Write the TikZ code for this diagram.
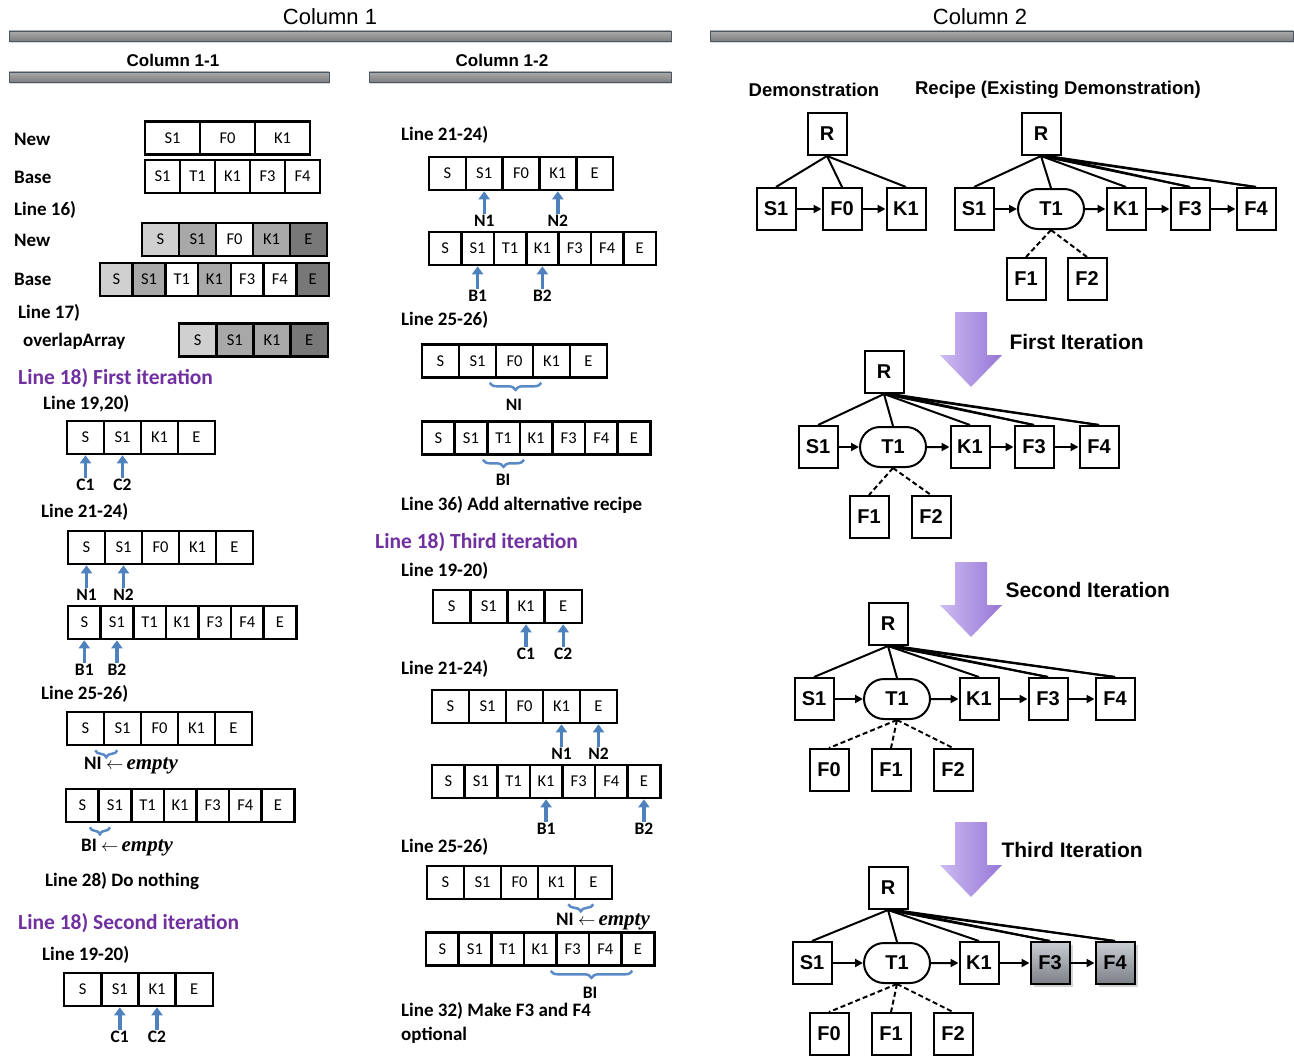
\documentclass[tikz,border=0pt]{standalone}
\usepackage{amsmath}
\usepackage{fontspec}
\setmainfont{Carlito}
\newfontfamily\arialfont{Liberation Sans}
\newfontfamily\emptyfont{Liberation Serif}
\usetikzlibrary{arrows.meta,positioning,calc,decorations.pathreplacing,shapes.misc,shadows}
\definecolor{ptrblue}{HTML}{4F81BD}
\definecolor{braceblue}{HTML}{5A8AC6}
\definecolor{headpurple}{HTML}{7030A0}
\definecolor{lgS}{HTML}{D0D0D0}
\definecolor{mgS}{HTML}{A8A8A8}
\definecolor{dgS}{HTML}{787878}
\definecolor{arrowL}{HTML}{CDBBF2}
\definecolor{arrowR}{HTML}{9676D6}
\definecolor{optTop}{HTML}{C9CED4}
\definecolor{optBot}{HTML}{7B8088}
\definecolor{barTop}{HTML}{ABABAB}
\definecolor{barBot}{HTML}{7E7E7E}
\definecolor{barEdge}{HTML}{4B5563}

% row of array cells: name, left x, centre y, cell width, entries
\newcommand{\cellrow}[5]{%
  \foreach \lab [count=\i] in {#5}
    \node[cell, minimum width=#4pt] (#1-\i) at ({#2+(\i-0.5)*#4},#3) {\lab};}
% same, with a fill per cell (entry/colour)
\newcommand{\shadedrow}[5]{%
  \foreach \lab/\fil [count=\i] in {#5}
    \node[cell, minimum width=#4pt, fill=\fil] (#1-\i) at ({#2+(\i-0.5)*#4},#3) {\lab};}
% grey header bar: x1, x2, top y
\newcommand{\headbar}[3]{%
  \shade[top color=barTop, bottom color=barBot, draw=barEdge, line width=0.8pt,
         drop shadow={shadow xshift=1pt, shadow yshift=-2pt, opacity=0.3}]
    (#1,#3) rectangle (#2,{#3+10});}
% purple block arrow: centre x, top y
\newcommand{\iterarrow}[2]{%
  \shade[left color=arrowL, right color=arrowR]
    ({#1-16},#2) -- ({#1+16},#2) -- ({#1+16},{#2+43}) -- ({#1+31},{#2+43})
    -- (#1,{#2+75}) -- ({#1-31},{#2+43}) -- ({#1-16},{#2+43}) -- cycle;}
\newcommand{\empt}{$\leftarrow$\,{\emptyfont\bfseries\itshape\fontsize{21}{24}\selectfont empty}}

\begin{document}
\begin{tikzpicture}[x=1pt, y=-1pt,
  cell/.style={draw, line width=2.6pt, minimum height=33pt, inner sep=0pt, fill=white,
               font=\fontsize{16.5}{18}\selectfont},
  txt/.style={anchor=west, inner sep=0pt, font=\bfseries\fontsize{19}{24}\selectfont},
  phead/.style={anchor=west, inner sep=0pt, text=headpurple,
                font=\bfseries\fontsize{21.5}{24}\selectfont},
  ptrlbl/.style={inner sep=1pt, font=\bfseries\fontsize{17.5}{19}\selectfont},
  ptr/.style={draw=ptrblue, line width=3.4pt, -{Triangle[width=11pt,length=8pt]}},
  brc/.style={draw=braceblue, line width=2.5pt, decorate,
              decoration={brace, mirror, amplitude=7pt}},
  colhead/.style={font=\arialfont\fontsize{22}{24}\selectfont},
  subhead/.style={font=\arialfont\bfseries\fontsize{17}{18}\selectfont},
  thead/.style={font=\arialfont\bfseries\fontsize{18.5}{20}\selectfont},
  iterlbl/.style={anchor=west, font=\arialfont\bfseries\fontsize{21}{23}\selectfont},
  tbox/.style={draw, line width=2pt, minimum width=39pt, minimum height=42pt, inner sep=0pt,
               fill=white, font=\arialfont\bfseries\fontsize{20}{22}\selectfont},
  tpill/.style={tbox, rounded rectangle, minimum width=66pt, minimum height=40pt},
  opt/.style={tbox, top color=optTop, bottom color=optBot,
              drop shadow={shadow xshift=3pt, shadow yshift=-3pt, opacity=0.35}},
  tedge/.style={line width=2pt},
  tnext/.style={line width=2pt, -{Triangle[length=8pt,width=8pt]}},
  tfree/.style={line width=2pt, dash pattern=on 5pt off 3pt}
]
\useasboundingbox (0,0) rectangle (1294,1057);

% ---- headers ----
\node[colhead] (col1)  at (330,17) {Column 1};
\node[colhead] (col2)  at (980,17) {Column 2};
\headbar{9}{671}{31}
\headbar{710}{1293}{31}
\node[subhead] (col11) at (173,60) {Column 1-1};
\node[subhead] (col12) at (502,60) {Column 1-2};
\headbar{9}{329}{72}
\headbar{369}{671}{72}

% ---- column 1-1 ----
\node[txt] (t-new)  at (14,139) {New};
\node[txt] (t-base) at (14,177) {Base};
\cellrow{nw}{145}{138}{55}{S1,F0,K1}
\cellrow{bs}{145}{176.5}{35}{S1,T1,K1,F3,F4}
\node[txt] (t-l16)   at (14,210) {Line 16)};
\node[txt] (t-new2)  at (14,240) {New};
\node[txt] (t-base2) at (14,279) {Base};
\shadedrow{nx}{142}{239.5}{37}{S/lgS,S1/mgS,F0/white,K1/mgS,E/dgS}
\shadedrow{bx}{100}{279.5}{32.7}{S/lgS,S1/mgS,T1/white,K1/mgS,F3/white,F4/white,E/dgS}
\node[txt] (t-l17) at (18,313) {Line 17)};
\node[txt] (t-ov)  at (23,341) {overlapArray};
\shadedrow{ov}{179}{340}{37.2}{S/lgS,S1/mgS,K1/mgS,E/dgS}

\node[phead] (h-it1) at (18,378) {Line 18) First iteration};
\node[txt] (t-a1) at (43,404) {Line 19,20)};
\cellrow{fa}{67}{437.5}{37}{S,S1,K1,E}
\node[ptrlbl, below=23pt of fa-1] (fa-c1) {C1};
\node[ptrlbl, below=23pt of fa-2] (fa-c2) {C2};
\draw[ptr] (fa-c1.north) -- (fa-1.south);
\draw[ptr] (fa-c2.north) -- (fa-2.south);

\node[txt] (t-a2) at (41,512) {Line 21-24)};
\cellrow{fb}{68}{547.5}{37}{S,S1,F0,K1,E}
\node[ptrlbl, below=23pt of fb-1] (fb-n1) {N1};
\node[ptrlbl, below=23pt of fb-2] (fb-n2) {N2};
\draw[ptr] (fb-n1.north) -- (fb-1.south);
\draw[ptr] (fb-n2.north) -- (fb-2.south);
\cellrow{fc}{68}{622.5}{32.6}{S,S1,T1,K1,F3,F4,E}
\node[ptrlbl, below=23pt of fc-1] (fc-b1) {B1};
\node[ptrlbl, below=23pt of fc-2] (fc-b2) {B2};
\draw[ptr] (fc-b1.north) -- (fc-1.south);
\draw[ptr] (fc-b2.north) -- (fc-2.south);

\node[txt] (t-a3) at (41,694) {Line 25-26)};
\cellrow{fd}{67}{728.5}{37}{S,S1,F0,K1,E}
\draw[brc] ($(fd-1.south east)+(-10,4)$) -- ($(fd-1.south east)+(12,4)$);
\node[txt] (fd-ni) at (84,766) {NI \empt};
\cellrow{fe}{66}{805.5}{32.6}{S,S1,T1,K1,F3,F4,E}
\draw[brc] ($(fe-1.south east)+(-10,4)$) -- ($(fe-1.south east)+(10,4)$);
\node[txt] (fe-bi) at (81,848) {BI \empt};
\node[txt] (t-a4) at (45,881) {Line 28) Do nothing};

\node[phead] (h-it2) at (18,923) {Line 18) Second iteration};
\node[txt] (t-b1) at (42,955) {Line 19-20)};
\cellrow{sa}{64}{989.5}{37.2}{S,S1,K1,E}
\node[ptrlbl, below=23pt of sa-2] (sa-c1) {C1};
\node[ptrlbl, below=23pt of sa-3] (sa-c2) {C2};
\draw[ptr] (sa-c1.north) -- (sa-2.south);
\draw[ptr] (sa-c2.north) -- (sa-3.south);

% ---- column 1-2 ----
\node[txt] (t-b2) at (401,135) {Line 21-24)};
\cellrow{ga}{429}{173.5}{36.8}{S,S1,F0,K1,E}
\node[ptrlbl, below=23pt of ga-2] (ga-n1) {N1};
\node[ptrlbl, below=23pt of ga-4] (ga-n2) {N2};
\draw[ptr] (ga-n1.north) -- (ga-2.south);
\draw[ptr] (ga-n2.north) -- (ga-4.south);
\cellrow{gb}{429}{248.5}{32.4}{S,S1,T1,K1,F3,F4,E}
\node[ptrlbl, below=23pt of gb-2] (gb-b1) {B1};
\node[ptrlbl, below=23pt of gb-4] (gb-b2) {B2};
\draw[ptr] (gb-b1.north) -- (gb-2.south);
\draw[ptr] (gb-b2.north) -- (gb-4.south);

\node[txt] (t-b3) at (401,320) {Line 25-26)};
\cellrow{gc}{422}{361}{37}{S,S1,F0,K1,E}
\draw[brc] ($(gc-3.south west)+(-5,4)$) -- ($(gc-3.south east)+(7,4)$);
\node[ptrlbl] (gc-ni) at (514,405) {NI};
\cellrow{gd}{422}{438}{32.6}{S,S1,T1,K1,F3,F4,E}
\draw[brc] ($(gd-3.south west)+(-3,4)$) -- ($(gd-3.south east)+(3,4)$);
\node[ptrlbl] (gd-bi) at (503,480) {BI};
\node[txt] (t-b4) at (401,505) {Line 36) Add alternative recipe};

\node[phead] (h-it3) at (375,542) {Line 18) Third iteration};
\node[txt] (t-c1) at (401,571) {Line 19-20)};
\cellrow{ta}{433}{606.5}{37.2}{S,S1,K1,E}
\node[ptrlbl, below=23pt of ta-3] (ta-c1) {C1};
\node[ptrlbl, below=23pt of ta-4] (ta-c2) {C2};
\draw[ptr] (ta-c1.north) -- (ta-3.south);
\draw[ptr] (ta-c2.north) -- (ta-4.south);

\node[txt] (t-c2) at (401,669) {Line 21-24)};
\cellrow{tb}{432}{706.5}{37}{S,S1,F0,K1,E}
\node[ptrlbl, below=23pt of tb-4] (tb-n1) {N1};
\node[ptrlbl, below=23pt of tb-5] (tb-n2) {N2};
\draw[ptr] (tb-n1.north) -- (tb-4.south);
\draw[ptr] (tb-n2.north) -- (tb-5.south);
\cellrow{tc}{432}{781.5}{32.6}{S,S1,T1,K1,F3,F4,E}
\node[ptrlbl, below=23pt of tc-4] (tc-b1) {B1};
\node[ptrlbl, below=23pt of tc-7] (tc-b2) {B2};
\draw[ptr] (tc-b1.north) -- (tc-4.south);
\draw[ptr] (tc-b2.north) -- (tc-7.south);

\node[txt] (t-c3) at (401,847) {Line 25-26)};
\cellrow{td}{427}{882.5}{37}{S,S1,F0,K1,E}
\draw[brc] ($(td-4.south east)+(-8,4)$) -- ($(td-4.south east)+(17,4)$);
\node[txt] (td-ni) at (556,922) {NI \empt};
\cellrow{te}{426}{949}{32.6}{S,S1,T1,K1,F3,F4,E}
\draw[brc] ($(te-4.south east)+(-7,4)$) -- ($(te-7.south west)+(12,4)$);
\node[ptrlbl] (te-bi) at (590,993) {BI};
\node[txt, align=left] (t-c4) at (401,1023) {Line 32) Make F3 and F4\\optional};

% ---- column 2: demonstration and recipe ----
\node[thead] (demo-t)   at (814,90)  {Demonstration};
\node[thead] (recipe-t) at (1058,90) {Recipe (Existing Demonstration)};

\node[tbox] (d-R)  at (827,134) {R};
\node[tbox] (d-S1) at (776,209) {S1};
\node[tbox] (d-F0) at (842,209) {F0};
\node[tbox] (d-K1) at (906,209) {K1};
\foreach \c in {S1,F0,K1} \draw[tedge] (d-R.south) -- (d-\c.north);
\draw[tnext] (d-S1) -- (d-F0);
\draw[tnext] (d-F0) -- (d-K1);

\node[tbox]  (r0-R)  at (1041,134) {R};
\node[tbox]  (r0-S1) at (974,209)  {S1};
\node[tpill] (r0-T1) at (1051,209) {T1};
\node[tbox]  (r0-K1) at (1126,209) {K1};
\node[tbox]  (r0-F3) at (1190,209) {F3};
\node[tbox]  (r0-F4) at (1256,209) {F4};
\node[tbox]  (r0-F1) at (1026,279) {F1};
\node[tbox]  (r0-F2) at (1087,279) {F2};

% ---- iterations ----
\iterarrow{971}{312}
\node[iterlbl] (it1-t) at (1006,342) {First Iteration};
\node[tbox]  (r1-R)  at (884,372) {R};
\node[tbox]  (r1-S1) at (818,447) {S1};
\node[tpill] (r1-T1) at (893,447) {T1};
\node[tbox]  (r1-K1) at (970,447) {K1};
\node[tbox]  (r1-F3) at (1034,447) {F3};
\node[tbox]  (r1-F4) at (1099,447) {F4};
\node[tbox]  (r1-F1) at (869,517) {F1};
\node[tbox]  (r1-F2) at (931,517) {F2};

\iterarrow{971}{562}
\node[iterlbl] (it2-t) at (1002,590) {Second Iteration};
\node[tbox]  (r2-R)  at (888,624) {R};
\node[tbox]  (r2-S1) at (814,699) {S1};
\node[tpill] (r2-T1) at (897,699) {T1};
\node[tbox]  (r2-K1) at (979,699) {K1};
\node[tbox]  (r2-F3) at (1048,699) {F3};
\node[tbox]  (r2-F4) at (1115,699) {F4};
\node[tbox]  (r2-F0) at (829,770) {F0};
\node[tbox]  (r2-F1) at (891,770) {F1};
\node[tbox]  (r2-F2) at (953,770) {F2};

\iterarrow{971}{822}
\node[iterlbl] (it3-t) at (998,850) {Third Iteration};
\node[tbox]  (r3-R)  at (888,888) {R};
\node[tbox]  (r3-S1) at (812,963) {S1};
\node[tpill] (r3-T1) at (897,963) {T1};
\node[tbox]  (r3-K1) at (979,963) {K1};
\node[opt]   (r3-F3) at (1050,963) {F3};
\node[opt]   (r3-F4) at (1115,963) {F4};
\node[tbox]  (r3-F0) at (829,1034) {F0};
\node[tbox]  (r3-F1) at (891,1034) {F1};
\node[tbox]  (r3-F2) at (953,1034) {F2};

% recipe edges, same for every tree
\foreach \p/\fs in {r0/{F1,F2}, r1/{F1,F2}, r2/{F0,F1,F2}, r3/{F0,F1,F2}} {
  \foreach \c in {S1,T1,K1,F3,F4} \draw[tedge] (\p-R.south) -- (\p-\c.north);
  \foreach \c in {F3,F4} \draw[tedge] ([xshift=7pt]\p-R.south) -- (\p-\c.north);
  \draw[tnext] (\p-S1) -- (\p-T1);
  \draw[tnext] (\p-T1) -- (\p-K1);
  \draw[tnext] (\p-K1) -- (\p-F3);
  \draw[tnext] (\p-F3) -- (\p-F4);
  \foreach \f in \fs \draw[tfree] (\p-T1.south) -- (\p-\f.north);
}
\end{tikzpicture}
\end{document}
